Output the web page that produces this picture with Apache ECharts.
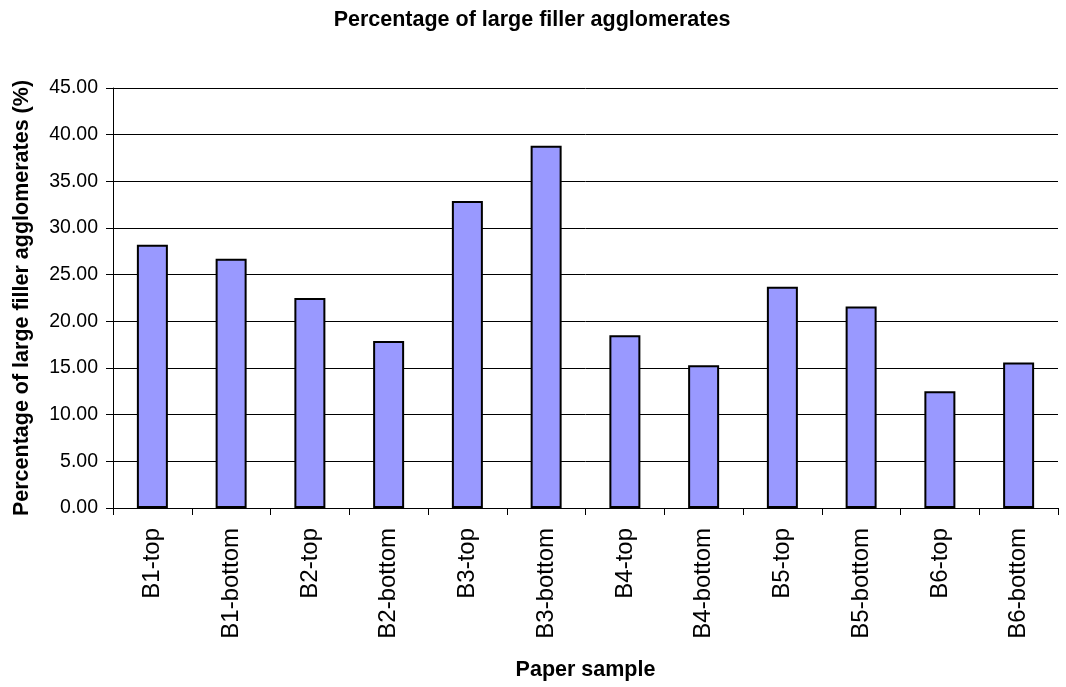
<!DOCTYPE html>
<html>
<head>
<meta charset="utf-8">
<title>Percentage of large filler agglomerates</title>
<script src="https://cdn.jsdelivr.net/npm/echarts@6/dist/echarts.min.js"></script>
<style>
  html, body { margin: 0; padding: 0; background: #ffffff; }
  #chart { width: 1066px; height: 687px; }
</style>
</head>
<body>
<div id="chart"></div>
<script>
// Paper samples on the x axis
const samples = ['B1-top', 'B1-bottom', 'B2-top', 'B2-bottom', 'B3-top', 'B3-bottom',
                 'B4-top', 'B4-bottom', 'B5-top', 'B5-bottom', 'B6-top', 'B6-bottom'];
// Share of large filler agglomerates per sample (%)
const percentages = [28.2, 26.7, 22.5, 17.9, 32.9, 38.8, 18.5, 15.3, 23.7, 21.6, 12.5, 15.6];
// Value axis range and step
const yMin = 0;
const yMax = 45;
const yStep = 5;

const FONT = "'Liberation Sans', Arial, Helvetica, sans-serif";

const chart = echarts.init(document.getElementById('chart'), null, { renderer: 'canvas' });

chart.setOption({
  backgroundColor: '#ffffff',
  animation: false,
  title: {
    text: 'Percentage of large filler agglomerates',
    left: 527,
    top: 4,
    textAlign: 'center',
    textStyle: { fontFamily: FONT, fontSize: 21.5, fontWeight: 'bold', color: '#000000' }
  },
  grid: { left: 113, right: 8, top: 88, bottom: 179, containLabel: false },
  xAxis: {
    type: 'category',
    data: samples,
    name: 'Paper sample',
    nameLocation: 'middle',
    nameGap: 151,
    nameTextStyle: { fontFamily: FONT, fontSize: 21.5, fontWeight: 'bold', color: '#000000' },
    axisLine: { show: true, lineStyle: { color: '#000000', width: 1 } },
    axisTick: { show: true, length: 7, lineStyle: { color: '#000000' } },
    axisLabel: {
      rotate: 90,
      margin: 20,
      interval: 0,
      fontFamily: FONT,
      fontSize: 24,
      color: '#000000'
    },
    splitLine: { show: false }
  },
  yAxis: {
    type: 'value',
    min: yMin,
    max: yMax,
    interval: yStep,
    name: 'Percentage of large filler agglomerates (%)',
    nameLocation: 'middle',
    nameRotate: 90,
    nameGap: 80,
    nameTextStyle: { fontFamily: FONT, fontSize: 21.5, fontWeight: 'bold', color: '#000000' },
    axisLine: { show: true, lineStyle: { color: '#000000', width: 1 } },
    axisTick: { show: true, length: 7, lineStyle: { color: '#000000' } },
    axisLabel: {
      margin: 15,
      fontFamily: FONT,
      fontSize: 19.5,
      color: '#000000',
      formatter: v => v.toFixed(2)
    },
    splitLine: { show: true, lineStyle: { color: '#000000', width: 1 } }
  },
  series: [{
    type: 'bar',
    data: percentages,
    barWidth: 31,
    itemStyle: { color: '#9999ff', borderColor: '#000000', borderWidth: 2 }
  }]
});
</script>
</body>
</html>
